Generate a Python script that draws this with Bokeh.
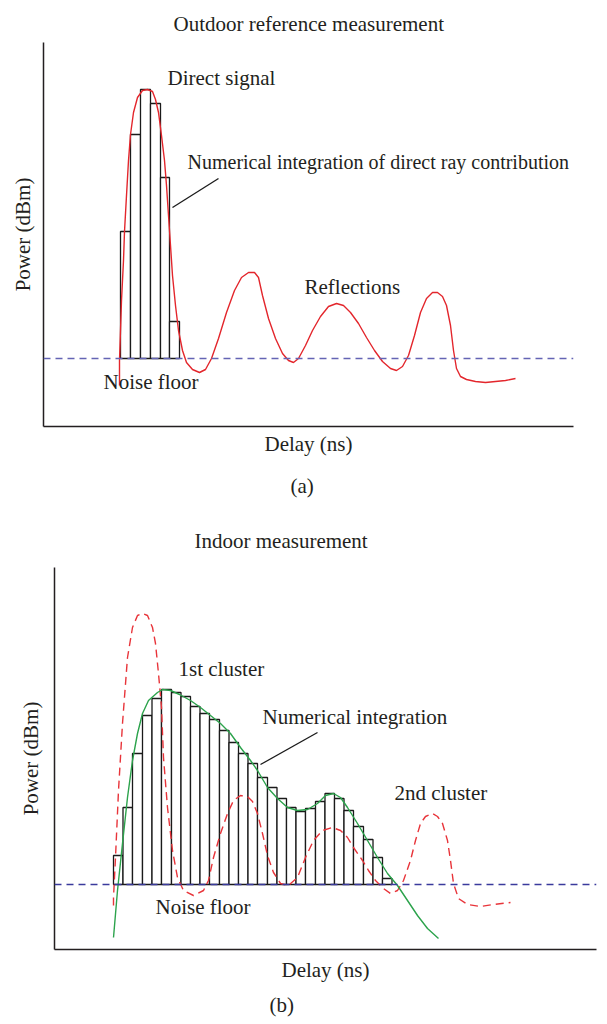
import numpy as np
from bokeh.plotting import figure
from bokeh.layouts import column, row
from bokeh.models import Label, Span, Range1d, FixedTicker, Title
from bokeh.embed import file_html
from bokeh.resources import INLINE

# ---------------- Panel (a): outdoor reference measurement ----------------
a_bin_edges = [77, 87, 97, 107, 117, 126, 136]
a_bin_power = [127, 224, 269, 255, 181, 37]

a_delay = [76, 76, 77, 78, 80, 81, 83, 85, 87, 90, 94, 99, 104, 109, 112, 115, 118, 121,
           123, 125, 127, 129, 132, 135, 139, 143, 149, 156, 162, 168, 175, 183, 191, 198,
           205, 211, 215, 219, 225, 232, 239, 245, 250, 255, 262, 269, 277, 285, 293, 300,
           307, 315, 323, 331, 339, 347, 353, 359, 365, 371, 377, 383, 389, 394, 399, 403,
           407, 410, 413, 417, 423, 432, 442, 452, 462, 472]
a_power = [-27, -2, 28, 58, 98, 127, 163, 198, 224, 246, 261, 268, 269, 267, 259, 246, 223, 198,
           173, 143, 113, 83, 53, 28, 8, -4, -11, -14, -11, 0, 20, 46, 68, 81,
           86, 86, 81, 63, 40, 20, 5, -2, -4, 0, 13, 28, 42, 52, 55, 53,
           46, 35, 21, 8, -3, -10, -12, -8, 3, 23, 46, 60, 66, 66, 62, 53,
           33, 8, -10, -18, -21, -23, -24, -23, -22, -20]
a_noise_floor = 0
a_pointer_delay = [129, 175]
a_pointer_power = [151, 180]

# ---------------- Panel (b): indoor measurement ----------------
b_bin_edges = [59, 68.5, 78, 88, 97.5, 107, 117, 126.5, 136, 145.5, 155, 165, 174.5, 184, 193.5,
               203, 213, 222.5, 232, 241.5, 251, 261, 270.5, 280, 289.5, 299, 309, 318.5, 328, 337.5]
b_bin_power = [29, 77, 131, 169, 186, 195, 192, 188, 178, 171, 165, 154, 142, 131, 121,
               107, 97, 86, 77, 73, 76, 83, 91, 86, 74, 58, 45, 27, 6]

b_fit_delay = [59, 63, 68, 73, 78, 83, 88, 94, 103, 108, 116, 125, 136, 146, 156, 166, 176, 186,
               196, 203, 213, 223, 233, 243, 253, 263, 271, 279, 286, 293, 303, 313, 323, 333,
               343, 353, 363, 373, 384]
b_fit_power = [-53, -6, 41, 87, 124, 151, 171, 184, 192, 195, 194, 190, 184, 177, 169, 161, 151, 137,
               124, 114, 97, 86, 77, 74, 75, 81, 89, 91, 87, 77, 61, 44, 27, 11,
               -1, -16, -31, -44, -54]

b_meas_delay = [59, 59, 61, 64, 68, 73, 78, 83, 88, 93, 98, 101, 104, 107, 109, 113, 118, 123,
                129, 139, 149, 154, 159, 166, 173, 179, 186, 193, 198, 203, 208, 213, 219, 226,
                234, 243, 251, 259, 268, 278, 286, 293, 299, 308, 314, 321, 329, 336, 343, 349,
                356, 361, 366, 371, 378, 383, 388, 393, 396, 399, 404, 413, 426, 439, 456]
b_meas_power = [-21, -13, 27, 94, 161, 227, 257, 269, 271, 269, 257, 241, 211, 177, 127, 77, 34, 7,
                -6, -11, -6, 4, 27, 51, 71, 84, 89, 88, 83, 71, 51, 29, 12, 1,
                -1, 7, 27, 44, 54, 57, 54, 47, 37, 24, 14, 4, -4, -9, -6, 4,
                24, 44, 61, 68, 71, 68, 61, 44, 24, 1, -14, -20, -22, -20, -18]
b_noise_floor = 0
b_pointer_delay = [206, 263]
b_pointer_power = [120, 152]

TEXT = "#231f20"
FONT = "Liberation Serif"
FS = "21px"


def base_fig(xr, yr, left, right, top, bottom):
    p = figure(width=607, height=512, x_range=Range1d(*xr), y_range=Range1d(*yr),
               output_backend="svg", toolbar_location=None,
               min_border_left=left, min_border_right=right,
               min_border_top=top, min_border_bottom=bottom)
    p.xgrid.visible = False
    p.ygrid.visible = False
    p.outline_line_color = None
    for ax in (p.xaxis[0], p.yaxis[0]):
        ax.ticker = FixedTicker(ticks=[])
        ax.major_tick_line_color = None
        ax.minor_tick_line_color = None
        ax.major_tick_out = 0
        ax.major_tick_in = 0
        ax.minor_tick_out = 0
        ax.major_label_standoff = 0
        ax.major_label_text_font_size = "0px"
        ax.axis_line_color = TEXT
        ax.axis_line_width = 1.5
        ax.axis_label_text_font = FONT
        ax.axis_label_text_font_size = FS
        ax.axis_label_text_font_style = "normal"
        ax.axis_label_text_color = TEXT
    p.title.text_font = FONT
    p.title.text_font_size = FS
    p.title.text_font_style = "normal"
    p.title.text_color = TEXT
    p.title.align = "left"
    return p


def add_text(p, x, y, text, size=FS):
    p.add_layout(Label(x=x, y=y, text=text, text_font=FONT, text_font_size=size,
                       text_color=TEXT, text_align="left", text_baseline="middle"))


def add_caption(p, text, offset, standoff, line_height=1.2):
    p.add_layout(Title(text=text, align="left", offset=offset, standoff=standoff,
                       text_font=FONT, text_font_size=FS, text_font_style="normal",
                       text_color=TEXT, text_line_height=line_height), "below")


# ---- figure (a)
pa = base_fig((0, 530), (-68, 316), 43, 34, 42, 86)
pa.title.text = "Outdoor reference measurement"
pa.title.offset = 130
pa.title.standoff = 14
pa.title.text_line_height = 2.1
pa.xaxis.axis_label = "Delay (ns)"
pa.xaxis.axis_label_standoff = 5
pa.yaxis.axis_label = "Power (dBm)"
pa.yaxis.axis_label_standoff = 9
add_caption(pa, "(a)", 247, 27)

pa.add_layout(Span(location=a_noise_floor, dimension="width", line_color="#6464b4",
                   line_dash="7 5", line_width=1.5))
pa.quad(left=a_bin_edges[:-1], right=a_bin_edges[1:], top=a_bin_power,
        bottom=[a_noise_floor] * len(a_bin_power), fill_color="white",
        line_color="#1a1a1a", line_width=1.3)
pa.line(a_delay, a_power, line_color="#e3262c", line_width=1.4)
pa.line(a_pointer_delay, a_pointer_power, line_color="#1a1a1a", line_width=1.3)

add_text(pa, 124, 281, "Direct signal")
add_text(pa, 144, 197, "Numerical integration of direct ray contribution", "20px")
add_text(pa, 261, 72, "Reflections")
add_text(pa, 60, -23, "Noise floor")

# ---- figure (b)
pb = base_fig((0, 542), (-65, 317), 54, 11, 55, 75)
pb.title.text = "Indoor measurement"
pb.title.offset = 140
pb.title.standoff = 27
pb.title.vertical_align = "middle"
pb.xaxis.axis_label = "Delay (ns)"
pb.xaxis.axis_label_standoff = 8
pb.yaxis.axis_label = "Power (dBm)"
pb.yaxis.axis_label_standoff = 12
add_caption(pb, "(b)", 215, 13, 0.3)

pb.add_layout(Span(location=b_noise_floor, dimension="width", line_color="#3a3a9c",
                   line_dash="7 5", line_width=1.4))
pb.quad(left=b_bin_edges[:-1], right=b_bin_edges[1:], top=b_bin_power,
        bottom=[b_noise_floor] * len(b_bin_power), fill_color="white",
        line_color="#1a1a1a", line_width=1.3)
pb.line(b_meas_delay, b_meas_power, line_color="#e8343a", line_width=1.4, line_dash="8 5")
pb.line(b_fit_delay, b_fit_power, line_color="#2ca34c", line_width=1.4)
pb.line(b_pointer_delay, b_pointer_power, line_color="#1a1a1a", line_width=1.3)

add_text(pb, 124, 216, "1st cluster")
add_text(pb, 208, 168, "Numerical integration")
add_text(pb, 340, 92, "2nd cluster")
add_text(pb, 101, -22, "Noise floor")

layout = column(row(pa), row(pb), spacing=0)
open("out.html", "w").write(file_html(layout, INLINE))
